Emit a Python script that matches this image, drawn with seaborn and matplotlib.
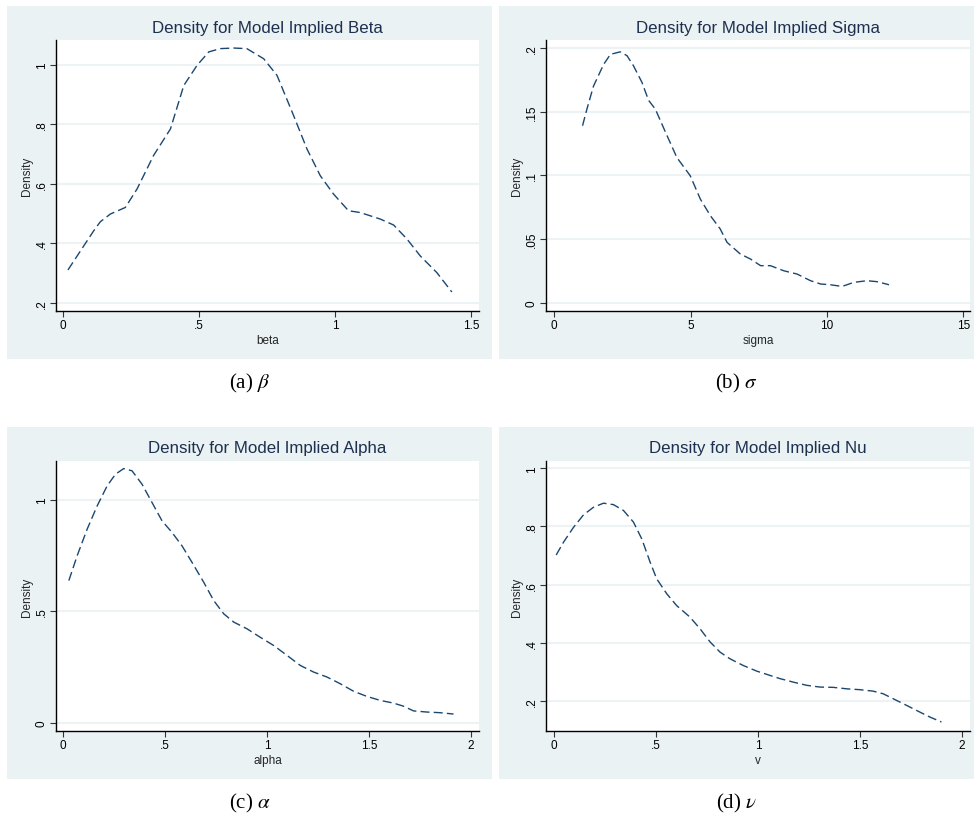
import matplotlib
matplotlib.use("Agg")
import matplotlib.pyplot as plt
import seaborn as sns
import pandas as pd
from matplotlib.patches import Rectangle

# ---------------- data ----------------
beta_x = [0.018, 0.064, 0.113, 0.137, 0.174, 0.229, 0.272, 0.333, 0.395, 0.444, 0.493,
          0.536, 0.578, 0.627, 0.676, 0.738, 0.787, 0.848, 0.897, 0.946, 0.995, 1.050,
          1.093, 1.167, 1.216, 1.265, 1.314, 1.375, 1.430]
beta_y = [0.311, 0.375, 0.443, 0.473, 0.499, 0.521, 0.583, 0.696, 0.785, 0.931, 0.999,
          1.044, 1.055, 1.057, 1.055, 1.021, 0.965, 0.830, 0.718, 0.628, 0.566, 0.510,
          0.504, 0.482, 0.462, 0.415, 0.358, 0.302, 0.237]

sigma_x = [1.04, 1.20, 1.44, 1.81, 2.06, 2.42, 2.67, 2.91, 3.22, 3.46, 3.71, 4.08, 4.50,
           4.99, 5.36, 5.73, 6.09, 6.34, 6.83, 7.20, 7.57, 7.93, 8.42, 8.91, 9.40, 9.77,
           10.13, 10.56, 10.99, 11.48, 11.85, 12.28]
sigma_y = [0.139, 0.152, 0.170, 0.187, 0.195, 0.197, 0.194, 0.186, 0.173, 0.159, 0.152,
           0.134, 0.114, 0.0997, 0.0814, 0.0683, 0.0579, 0.0474, 0.0382, 0.0343, 0.0291,
           0.0291, 0.0251, 0.0225, 0.0173, 0.0147, 0.0141, 0.0128, 0.0160, 0.0173,
           0.0165, 0.0141]

alpha_x = [0.028, 0.069, 0.118, 0.167, 0.216, 0.257, 0.297, 0.338, 0.387, 0.436, 0.485,
           0.534, 0.583, 0.632, 0.690, 0.739, 0.788, 0.837, 0.902, 0.967, 1.033, 1.098,
           1.163, 1.229, 1.294, 1.359, 1.425, 1.490, 1.556, 1.621, 1.670, 1.719, 1.784,
           1.850, 1.915]
alpha_y = [0.638, 0.750, 0.869, 0.973, 1.063, 1.115, 1.140, 1.130, 1.070, 0.988, 0.906,
           0.854, 0.794, 0.720, 0.630, 0.548, 0.489, 0.452, 0.422, 0.384, 0.347, 0.303,
           0.258, 0.228, 0.206, 0.176, 0.142, 0.119, 0.101, 0.089, 0.075, 0.054, 0.049,
           0.046, 0.040]

nu_x = [0.010, 0.046, 0.095, 0.144, 0.193, 0.242, 0.291, 0.340, 0.389, 0.430, 0.471,
        0.503, 0.552, 0.601, 0.667, 0.716, 0.765, 0.814, 0.863, 0.928, 0.993, 1.059,
        1.108, 1.173, 1.239, 1.304, 1.369, 1.435, 1.500, 1.565, 1.614, 1.663, 1.729,
        1.794, 1.843, 1.900]
nu_y = [0.702, 0.746, 0.797, 0.840, 0.866, 0.880, 0.875, 0.855, 0.815, 0.757, 0.677,
        0.620, 0.569, 0.528, 0.488, 0.448, 0.403, 0.368, 0.345, 0.322, 0.303, 0.288,
        0.277, 0.265, 0.254, 0.248, 0.247, 0.242, 0.239, 0.234, 0.225, 0.208, 0.185,
        0.162, 0.145, 0.128]

titles = ["Density for Model Implied Beta", "Density for Model Implied Sigma",
          "Density for Model Implied Alpha", "Density for Model Implied Nu"]
xlabels = ["beta", "sigma", "alpha", "v"]
captions = [r"(a) $\beta$", r"(b) $\sigma$", r"(c) $\alpha$", r"(d) $\nu$"]

xticks = [[0, 0.5, 1, 1.5], [0, 5, 10, 15], [0, 0.5, 1, 1.5, 2], [0, 0.5, 1, 1.5, 2]]
xticklabels = [["0", ".5", "1", "1.5"], ["0", "5", "10", "15"],
               ["0", ".5", "1", "1.5", "2"], ["0", ".5", "1", "1.5", "2"]]
yticks = [[0.2, 0.4, 0.6, 0.8, 1.0], [0, 0.05, 0.1, 0.15, 0.2], [0, 0.5, 1.0],
          [0.2, 0.4, 0.6, 0.8, 1.0]]
yticklabels = [[".2", ".4", ".6", ".8", "1"], ["0", ".05", ".1", ".15", ".2"],
               ["0", ".5", "1"], [".2", ".4", ".6", ".8", "1"]]

# ---------------- styling ----------------
sns.set_style("white")
plt.rcParams["font.family"] = ["Liberation Sans", "DejaVu Sans"]
plt.rcParams["mathtext.fontset"] = "stix"

W, H = 974, 820
fig = plt.figure(figsize=(W / 100, H / 100), dpi=100)
fig.patch.set_facecolor("white")

BG = "#EAF2F3"
LINE = "#1a476f"
TITLE = "#1e3050"

# gray panel boxes (pixels: x0, y0, x1, y1)
panels = [(7, 7, 492, 360), (499, 7, 974, 360), (7, 428, 492, 780), (499, 428, 974, 780)]
# plot areas (pixels)
areas = [(56, 41, 479, 312), (546, 41, 970, 312), (56, 462, 479, 732), (546, 462, 970, 732)]
xlims = [(-0.026, 1.53), (-0.30, 15.25), (-0.035, 2.04), (-0.04, 2.04)]
ylims = [(0.173, 1.084), (-0.0065, 0.2063), (-0.036, 1.174), (0.097, 1.025)]
caption_y = [383, 383, 803, 803]

series = [(beta_x, beta_y), (sigma_x, sigma_y), (alpha_x, alpha_y), (nu_x, nu_y)]


def frac(x0, y0, x1, y1):
    return [x0 / W, 1 - y1 / H, (x1 - x0) / W, (y1 - y0) / H]


for i in range(4):
    px0, py0, px1, py1 = panels[i]
    fig.patches.append(Rectangle((px0 / W, 1 - py1 / H), (px1 - px0) / W, (py1 - py0) / H,
                                 transform=fig.transFigure, facecolor=BG, edgecolor="none",
                                 zorder=0))
    ax = fig.add_axes(frac(*areas[i]))
    ax.set_facecolor("white")
    ax.set_zorder(1)

    df = pd.DataFrame({"x": series[i][0], "y": series[i][1]})
    sns.lineplot(data=df, x="x", y="y", ax=ax, color=LINE, linewidth=1.0,
                 linestyle="--", sort=False, estimator=None)
    for ln in ax.lines:
        ln.set_dashes([6.5, 3])

    ax.set_xlim(*xlims[i])
    ax.set_ylim(*ylims[i])
    ax.set_xticks(xticks[i])
    ax.set_xticklabels(xticklabels[i])
    ax.set_yticks(yticks[i])
    ax.set_yticklabels(yticklabels[i], rotation=90, va="center")
    ax.grid(axis="y", color="#EDF3F4", linewidth=1.5)
    ax.set_axisbelow(True)
    for s in ["top", "right"]:
        ax.spines[s].set_visible(False)
    for s in ["left", "bottom"]:
        ax.spines[s].set_color("black")
        ax.spines[s].set_linewidth(1.0)
    ax.tick_params(axis="both", which="major", direction="out", length=4, width=0.8,
                   color="#333333", labelsize=8.5, labelcolor="black", pad=2,
                   left=True, bottom=True)
    ax.set_xlabel(xlabels[i], fontsize=8.5, labelpad=2)
    ax.set_ylabel("Density", fontsize=8.5, labelpad=2)

    ax0, ay0, ax1, ay1 = areas[i]
    fig.text(((ax0 + ax1) / 2) / W, 1 - (ay0 - 13) / H, titles[i], ha="center",
             va="center", fontsize=12.2, color=TITLE)
    fig.text(((px0 + px1) / 2) / W, 1 - caption_y[i] / H, captions[i], ha="center",
             va="center", fontsize=15, family="Liberation Serif", color="black")

fig.savefig("out.png", dpi=100, facecolor="white")
